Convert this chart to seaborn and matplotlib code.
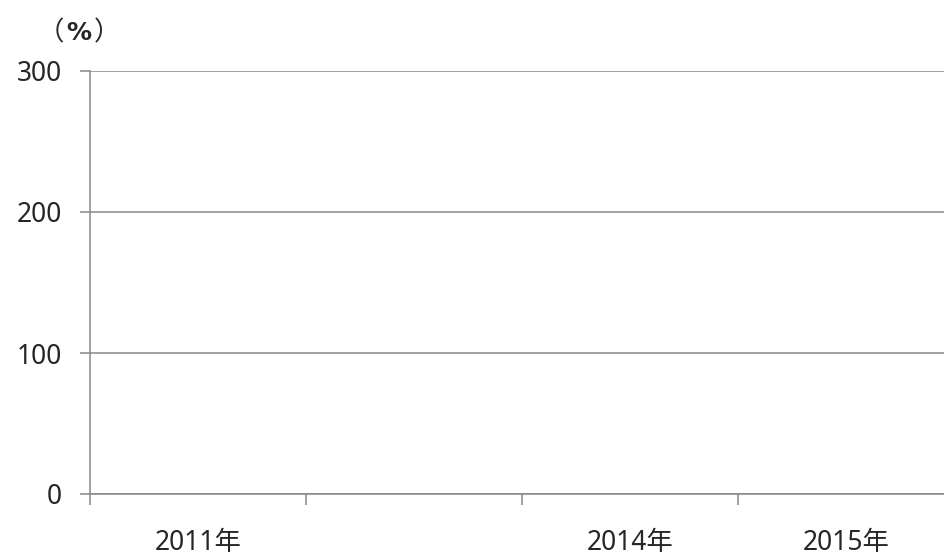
import numpy as np
import pandas as pd
import matplotlib
matplotlib.use('Agg')
import matplotlib.pyplot as plt
import seaborn as sns

# 数据（图中没有柱子，只有坐标轴）
categories = ['2011年', '', '2014年', '2015年']
values = [0, 0, 0, 0]
yticks = [0, 100, 200, 300]

sns.set_style('white')
plt.rcParams['font.family'] = ['Noto Sans', 'Noto Sans CJK JP', 'DejaVu Sans']

grid_color = '#888888'

fig = plt.figure(figsize=(9.45, 5.58), dpi=100)
ax = fig.add_axes([90 / 945, 64 / 558, (954 - 90) / 945, 423 / 558])

df = pd.DataFrame({'year': categories, 'value': values})
df['pos'] = range(len(df))
sns.barplot(data=df, x='pos', y='value', ax=ax, color='#4f81bd', linewidth=0)

ax.set_xlim(-0.5, len(categories) - 0.5)
ax.set_ylim(0, 300)
ax.set_yticks(yticks)
ax.set_yticklabels([str(v) for v in yticks], fontsize=19)
ax.set_xticks(range(len(categories)))
ax.set_xticklabels(categories, fontsize=19)
ax.set_xticks(np.arange(-0.5, len(categories) - 0.5, 1), minor=True)
ax.tick_params(axis='x', which='major', bottom=True, length=0, pad=25)
ax.tick_params(axis='x', which='minor', bottom=True, length=8, width=1.1, color=grid_color, direction='out')
ax.tick_params(axis='y', left=True, length=7, width=1.1, color=grid_color, direction='out', pad=13)
ax.set_xlabel('')
ax.set_ylabel('')

ax.yaxis.grid(True, color=grid_color, linewidth=1.1)
ax.set_axisbelow(True)
for s in ['top', 'right']:
    ax.spines[s].set_visible(False)
for s in ['left', 'bottom']:
    ax.spines[s].set_color(grid_color)
    ax.spines[s].set_linewidth(1.1)

# 单位（%）
fig.text(51 / 945, 1 - 33 / 558, '（', fontsize=19, ha='center', va='center',
         family=['Noto Sans CJK JP', 'DejaVu Sans'])
fig.text(79 / 945, 1 - 33 / 558, '%', fontsize=18, fontweight='bold', ha='center', va='center',
         family=['DejaVu Sans'])
fig.text(107 / 945, 1 - 33 / 558, '）', fontsize=19, ha='center', va='center',
         family=['Noto Sans CJK JP', 'DejaVu Sans'])

fig.savefig('out.png', dpi=100)
